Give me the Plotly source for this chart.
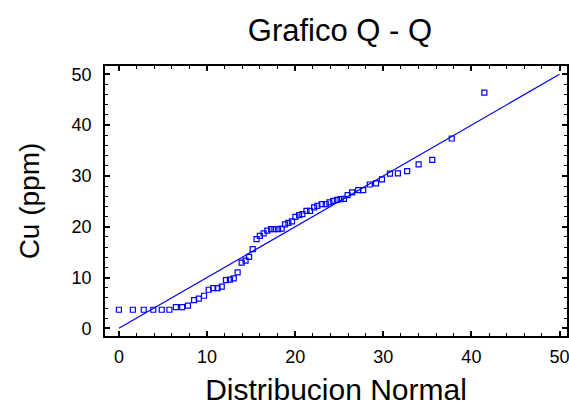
import plotly.graph_objects as go

# Normal quantiles (x) against ordered Cu samples (y)
normal_q = [0.0, 1.58, 2.82, 3.9, 4.86, 5.73, 6.47, 7.18, 7.83, 8.53, 9.06, 9.66,
            10.19, 10.7, 11.19, 11.67, 12.15, 12.6, 13.03, 13.47, 13.93, 14.37, 14.77,
            15.18, 15.62, 15.99, 16.42, 16.84, 17.27, 17.65, 18.06, 18.47, 18.85, 19.23,
            19.64, 20.03, 20.45, 20.82, 21.28, 21.69, 22.15, 22.52, 23.02, 23.47, 23.88,
            24.33, 24.75, 25.16, 25.54, 25.95, 26.47, 27.15, 27.72, 28.47, 29.18, 29.85,
            30.76, 31.66, 32.71, 34.01, 35.56, 37.77, 41.47]
cu_ppm = [3.66, 3.66, 3.66, 3.66, 3.66, 3.66, 4.19, 4.19, 4.48, 5.56, 5.86, 6.41,
          7.59, 7.92, 7.92, 8.22, 9.5, 9.6, 9.83, 11.03, 12.94, 13.33, 14.08,
          15.59, 17.56, 18.21, 18.68, 19.23, 19.52, 19.52, 19.52, 19.62, 20.47, 20.74,
          21.06, 21.94, 22.28, 22.47, 23.12, 23.12, 23.79, 24.11, 24.44, 24.44, 24.77,
          25.09, 25.29, 25.42, 25.48, 26.21, 26.74, 27.19, 27.19, 28.31, 28.53, 29.3,
          30.44, 30.48, 30.93, 32.25, 33.15, 37.36, 46.4]

# Reference line
line_x = [0, 50]
line_y = [0, 50]

blue = "#0000FF"
font_family = "Liberation Sans, Arial, sans-serif"

fig = go.Figure()
fig.add_trace(go.Scatter(x=line_x, y=line_y, mode="lines",
                         line=dict(color=blue, width=1.2), showlegend=False,
                         hoverinfo="skip"))
fig.add_trace(go.Scatter(x=normal_q, y=cu_ppm, mode="markers",
                         marker=dict(symbol="square-open", size=5, color=blue,
                                     line=dict(width=1.2, color=blue)),
                         showlegend=False))

axis_common = dict(
    showline=True, linecolor="black", linewidth=1.6, mirror="allticks",
    ticks="inside", ticklen=5, tickwidth=1.6, tickcolor="black",
    minor=dict(ticks="inside", ticklen=3, tickwidth=1.1, tickcolor="black", dtick=2),
    showgrid=False, zeroline=False, dtick=10,
    tickfont=dict(family=font_family, size=18, color="black"),
    ticklabeloverflow="allow",
)

fig.update_xaxes(range=[-1.58, 50.85], tick0=0, ticklabelstandoff=4,
                 title=dict(text="Distribucion Normal",
                            font=dict(family=font_family, size=30, color="black"),
                            standoff=13),
                 **axis_common)
fig.update_yaxes(range=[-1.51, 51.63], tick0=0, ticklabelstandoff=8,
                 title=dict(text="Cu (ppm)",
                            font=dict(family=font_family, size=28, color="black"),
                            standoff=24),
                 **axis_common)

fig.update_layout(
    width=569, height=408,
    margin=dict(l=105, r=0, t=66, b=72),
    paper_bgcolor="white", plot_bgcolor="white",
    title=dict(text="Grafico Q - Q", x=0.5975, xanchor="center", y=0.925,
               yanchor="middle",
               font=dict(family=font_family, size=31, color="black")),
)

fig.write_html("out.html")
